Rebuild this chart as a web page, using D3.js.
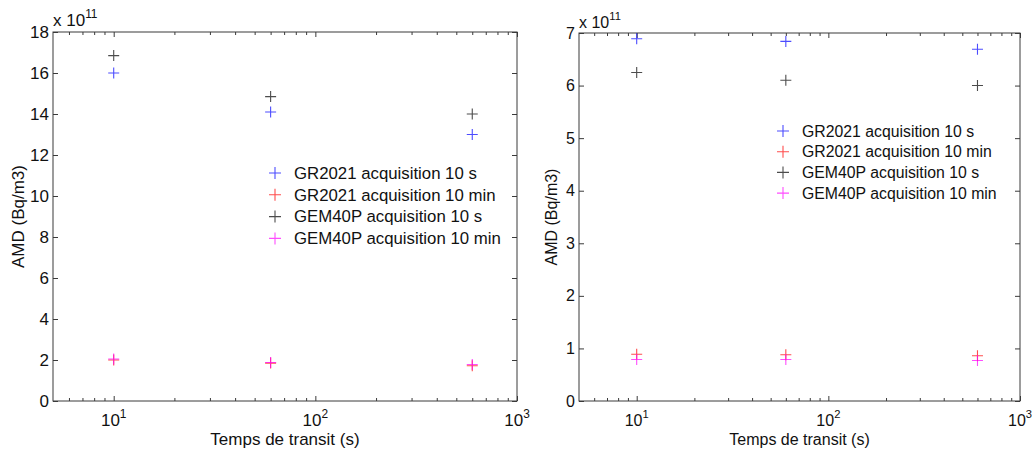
<!DOCTYPE html>
<html>
<head>
<meta charset="utf-8">
<script src="https://cdn.jsdelivr.net/npm/d3@7"></script>
<style>
  body { margin: 0; background: #fff; }
  svg { font-family: "Liberation Sans", Arial, sans-serif; }
</style>
</head>
<body>
<svg width="1032" height="454"></svg>
<script>
// data (values in units of 1e11 Bq/m3)
const transit = [10, 60, 600];
const seriesNames = ['GR2021 acquisition 10 s', 'GR2021 acquisition 10 min',
                     'GEM40P acquisition 10 s', 'GEM40P acquisition 10 min'];
const seriesColors = ['#0000ff', '#ff0000', '#000000', '#ff00ff'];
// left figure
const leftGR10s = [16.0, 14.1, 13.0];
const leftGR10min = [2.0, 1.85, 1.72];
const leftGEM10s = [16.85, 14.85, 14.0];
const leftGEM10min = [2.05, 1.88, 1.78];
// right figure
const rightGR10s = [6.89, 6.84, 6.69];
const rightGR10min = [0.89, 0.88, 0.86];
const rightGEM10s = [6.25, 6.1, 6.0];
const rightGEM10min = [0.79, 0.79, 0.77];
const xMajor = [10, 100, 1000];
const xMinor = [6, 7, 8, 9, 20, 30, 40, 50, 60, 70, 80, 90, 200, 300, 400, 500, 600, 700, 800, 900];
const leftYTicks = [0, 2, 4, 6, 8, 10, 12, 14, 16, 18];
const rightYTicks = [0, 1, 2, 3, 4, 5, 6, 7];

const panels = [
    {x0: 53, x1: 517, y0: 32, y1: 401, yMax: 18, yTicks: leftYTicks, fs: 17, legFs: 16.8,
     series: [leftGR10s, leftGR10min, leftGEM10s, leftGEM10min],
     legX: 275, legY: 173, legStep: 21.8, yLabelX: 24, expY: 26},
    {x0: 579, x1: 1020, y0: 33, y1: 401, yMax: 7, yTicks: rightYTicks, fs: 16, legFs: 15.8,
     series: [rightGR10s, rightGR10min, rightGEM10s, rightGEM10min],
     legX: 783, legY: 131, legStep: 20.7, yLabelX: 557, expY: 28}
];

const svg = d3.select('svg');
const axisColor = '#3a3a3a';

panels.forEach(p => {
    const x = d3.scaleLog().domain([5, 1000]).range([p.x0, p.x1]);
    const y = d3.scaleLinear().domain([0, p.yMax]).range([p.y1, p.y0]);
    const g = svg.append('g');

    // box
    g.append('rect')
        .attr('x', p.x0).attr('y', p.y0)
        .attr('width', p.x1 - p.x0).attr('height', p.y1 - p.y0)
        .attr('fill', 'none').attr('stroke', axisColor).attr('stroke-width', 1);

    // ticks (inside, on all four sides)
    const mk = (axis, tr, vals, size) => {
        const a = g.append('g').attr('transform', tr)
            .call(axis.tickValues(vals).tickSize(-size).tickFormat(''));
        a.select('.domain').remove();
        a.selectAll('line').attr('stroke', axisColor);
        return a;
    };
    mk(d3.axisBottom(x), `translate(0,${p.y1})`, xMajor, 5);
    mk(d3.axisBottom(x), `translate(0,${p.y1})`, xMinor, 3);
    mk(d3.axisTop(x), `translate(0,${p.y0})`, xMajor, 5);
    mk(d3.axisTop(x), `translate(0,${p.y0})`, xMinor, 3);
    mk(d3.axisRight(y), `translate(${p.x1},0)`, p.yTicks, 5);

    const ya = g.append('g').attr('transform', `translate(${p.x0},0)`)
        .call(d3.axisLeft(y).tickValues(p.yTicks).tickSize(-5).tickPadding(4).tickFormat(d3.format('d')));
    ya.select('.domain').remove();
    ya.selectAll('line').attr('stroke', axisColor);
    ya.attr('font-family', null).attr('font-size', null);
    ya.selectAll('text').style('font-size', p.fs + 'px').attr('fill', '#111');

    // x tick labels 10^n
    xMajor.forEach(v => {
        const t = g.append('text')
            .attr('x', x(v)).attr('y', p.y1 + 25)
            .attr('text-anchor', 'middle')
            .attr('font-size', p.fs).attr('fill', '#111');
        t.append('tspan').text('10');
        t.append('tspan').attr('dy', -8).attr('font-size', p.fs * 0.7).text(Math.round(Math.log10(v)));
    });

    // exponent label
    const e = g.append('text').attr('x', p.x0).attr('y', p.expY)
        .attr('font-size', p.fs).attr('fill', '#111');
    e.append('tspan').text('x 10');
    e.append('tspan').attr('dy', -8).attr('font-size', p.fs * 0.7).text('11');

    // axis labels
    g.append('text')
        .attr('x', (p.x0 + p.x1) / 2).attr('y', 445)
        .attr('text-anchor', 'middle').attr('font-size', p.fs).attr('fill', '#111')
        .text('Temps de transit (s)');
    g.append('text')
        .attr('transform', `translate(${p.yLabelX},${(p.y0 + p.y1) / 2}) rotate(-90)`)
        .attr('text-anchor', 'middle').attr('font-size', p.fs).attr('fill', '#111')
        .text('AMD (Bq/m3)');

    // plus markers
    const cross = (sel, s) => sel.attr('d', `M${-s},0H${s}M0,${-s}V${s}`);
    p.series.forEach((vals, i) => {
        g.append('g').selectAll('path')
            .data(vals.map((v, j) => ({x: transit[j], y: v})))
            .enter().append('path')
            .attr('transform', d => `translate(${x(d.x)},${y(d.y)})`)
            .call(cross, 5.5)
            .attr('fill', 'none')
            .attr('stroke', seriesColors[i])
            .attr('stroke-opacity', 0.7)
            .attr('stroke-width', 1.1);
    });

    // legend (no box)
    const leg = g.append('g').selectAll('g').data(seriesNames).enter().append('g')
        .attr('transform', (d, i) => `translate(${p.legX},${p.legY + i * p.legStep})`);
    leg.append('path').call(cross, 6)
        .attr('fill', 'none')
        .attr('stroke', (d, i) => seriesColors[i])
        .attr('stroke-opacity', 0.7)
        .attr('stroke-width', 1.1);
    leg.append('text')
        .attr('x', 19).attr('dy', '0.35em')
        .attr('font-size', p.legFs).attr('fill', '#111')
        .text(d => d);
});
</script>
</body>
</html>
